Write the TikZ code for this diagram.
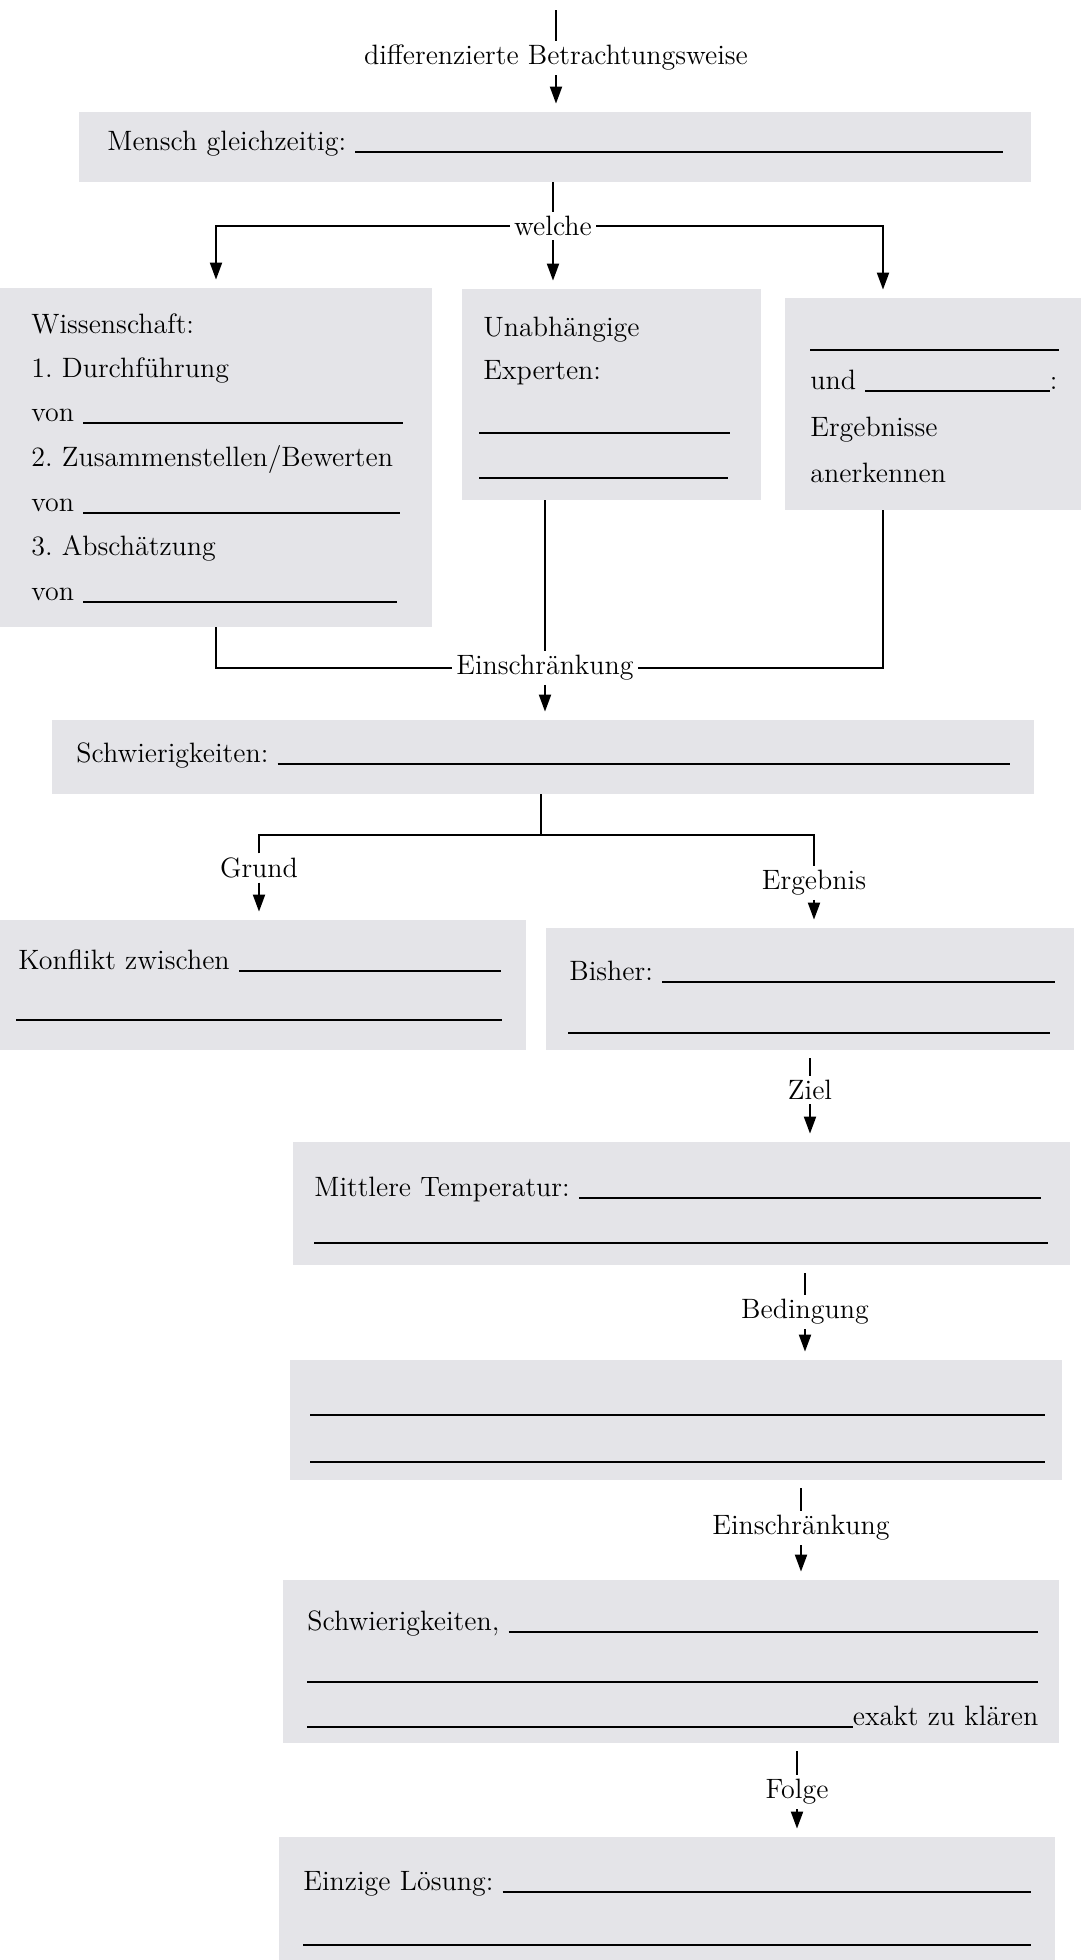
\documentclass[tikz,border=0pt]{standalone}
\usepackage{tikz}
\usetikzlibrary{arrows.meta, fit}
\setlength{\parindent}{0pt}
\frenchspacing

\definecolor{kastengrau}{RGB}{228,228,232}
\newcommand{\luecke}{\leavevmode\leaders\hrule height -0.5pt depth 1.5pt\hskip 0pt plus 1filll\null}

\tikzset{
  kasten/.style={fill=kastengrau, inner sep=0pt},
  zeile/.style={anchor=base west, inner sep=0pt},
  marke/.style={inner sep=2pt},
  linie/.style={line width=1pt},
  pfeil/.style={linie, -{Triangle[length=8.5pt,width=6pt]}, shorten >=4pt},
}

\begin{document}
\begin{tikzpicture}[x=0.5pt, y=-0.5pt, font=\fontsize{14}{17}\selectfont]
\useasboundingbox (0,0) rectangle (1081,1960);

% graue Kaesten
\node[kasten, fit={(79,112) (1031,182)}] (mensch) {};
\node[kasten, fit={(0,288) (432,627)}] (wiss) {};
\node[kasten, fit={(462,289) (761,500)}] (exp) {};
\node[kasten, fit={(785,298) (1081,510)}] (erg) {};
\node[kasten, fit={(52,720) (1034,794)}] (schw) {};
\node[kasten, fit={(0,920) (526,1050)}] (konf) {};
\node[kasten, fit={(546,928) (1074,1050)}] (bisher) {};
\node[kasten, fit={(293,1142) (1070,1265)}] (mitt) {};
\node[kasten, fit={(290,1360) (1062,1480)}] (bed) {};
\node[kasten, fit={(283,1580) (1059,1743)}] (klaer) {};
\node[kasten, fit={(279,1837) (1055,1960)}] (loes) {};

% Beschriftungen der Pfeile
\coordinate (oben) at (556,10);
\node[marke] (diff) at (556,58) {differenzierte Betrachtungsweise};
\node[marke] (welche) at (553,226) {welche};
\node[marke] (ein1) at (545,668) {Einschränkung};
\node[marke] (grund) at (259,868) {Grund};
\node[marke] (ergebnis) at (814,883) {Ergebnis};
\node[marke] (ziel) at (810,1090) {Ziel};
\node[marke] (beding) at (805,1312) {Bedingung};
\node[marke] (ein2) at (801,1528) {Einschränkung};
\node[marke] (folge) at (797,1792) {Folge};

% Text in den Kaesten
\node[zeile, text width=448pt] (menschz) at (107,150) {Mensch gleichzeitig: \luecke};

\node[zeile] (w1) at (31,333) {Wissenschaft:};
\node[zeile] (w2) at (31,377) {1. Durchführung};
\node[zeile, text width=186pt] (w3) at (31,421) {von \luecke};
\node[zeile] (w4) at (31,466) {2. Zusammenstellen/Bewerten};
\node[zeile, text width=184.5pt] (w5) at (31,511) {von \luecke};
\node[zeile] (w6) at (31,555) {3. Abschätzung};
\node[zeile, text width=183pt] (w7) at (31,600) {von \luecke};

\node[zeile] (e1) at (483,336) {Unabhängige};
\node[zeile] (e2) at (483,379) {Experten:};
\node[zeile, text width=125.5pt] (e3) at (479,431) {\luecke};
\node[zeile, text width=124.5pt] (e4) at (479,476) {\luecke};

\node[zeile, text width=124.5pt] (r1) at (810,348) {\luecke};
\node[zeile, text width=123.5pt] (r2) at (810,389) {und \luecke:};
\node[zeile] (r3) at (810,436) {Ergebnisse};
\node[zeile] (r4) at (810,482) {anerkennen};

\node[zeile, text width=467pt] (schwz) at (76,762) {Schwierigkeiten: \luecke};

\node[zeile, text width=241.5pt] (k1) at (18,969) {Konflikt zwischen \luecke};
\node[zeile, text width=243pt] (k2) at (16,1018) {\luecke};
\node[zeile, text width=243pt] (b1) at (569,980) {Bisher: \luecke};
\node[zeile, text width=241pt] (b2) at (568,1031) {\luecke};

\node[zeile, text width=363.5pt] (m1) at (314,1196) {Mittlere Temperatur: \luecke};
\node[zeile, text width=367pt] (m2) at (314,1241) {\luecke};

\node[zeile, text width=367.5pt] (bd1) at (310,1413) {\luecke};
\node[zeile, text width=367.5pt] (bd2) at (310,1460) {\luecke};

\node[zeile, text width=365.5pt] (s1) at (307,1630) {Schwierigkeiten, \luecke};
\node[zeile, text width=365.5pt] (s2) at (307,1680) {\luecke};
\node[zeile, text width=365.5pt] (s3) at (307,1725) {\luecke exakt zu klären};

\node[zeile, text width=364pt] (l1) at (303,1890) {Einzige Lösung: \luecke};
\node[zeile, text width=364pt] (l2) at (303,1943) {\luecke};

% Verbindungen
\draw[linie] (oben) -- (diff.north);
\draw[pfeil] (diff.south) -- (mensch.north -| diff.south);
\draw[linie] (mensch.south -| welche) -- (welche.north);
\draw[pfeil] (welche.west) -| (wiss.north);
\draw[pfeil] (welche.south) -- (exp.north -| welche);
\coordinate (ergx) at (883,0);
\draw[pfeil] (welche.east) -| (erg.north -| ergx);

\draw[linie] (wiss.south) |- (ein1.west);
\draw[linie] (exp.south -| ein1) -- (ein1.north);
\draw[linie] (erg.south -| ergx) |- (ein1.east);
\draw[pfeil] (ein1.south) -- (schw.north -| ein1);

\coordinate (gabel) at (541,835);
\draw[linie] (schw.south -| gabel) -- (gabel);
\draw[linie] (grund.north) |- (gabel) -| (ergebnis.north);
\draw[pfeil] (grund.south) -- (konf.north -| grund);
\draw[pfeil] (ergebnis.south) -- (bisher.north -| ergebnis);

\draw[linie, shorten <=4pt] (bisher.south -| ziel) -- (ziel.north);
\draw[pfeil] (ziel.south) -- (mitt.north -| ziel);
\draw[linie, shorten <=4pt] (mitt.south -| beding) -- (beding.north);
\draw[pfeil] (beding.south) -- (bed.north -| beding);
\draw[linie, shorten <=4pt] (bed.south -| ein2) -- (ein2.north);
\draw[pfeil] (ein2.south) -- (klaer.north -| ein2);
\draw[linie, shorten <=4pt] (klaer.south -| folge) -- (folge.north);
\draw[pfeil] (folge.south) -- (loes.north -| folge);
\end{tikzpicture}
\end{document}
